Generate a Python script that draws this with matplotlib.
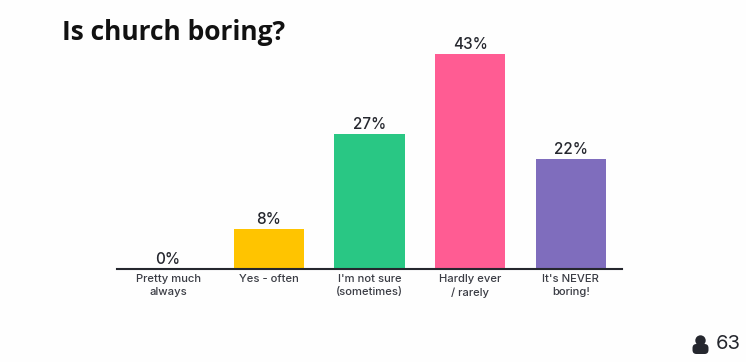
import matplotlib
matplotlib.use("Agg")
import matplotlib.pyplot as plt
from matplotlib.patches import Circle, FancyBboxPatch

categories = ["Pretty much\nalways", "Yes - often", "I'm not sure\n(sometimes)",
              "Hardly ever\n/ rarely", "It's NEVER\nboring!"]
values = [0, 8, 27, 43, 22]
colours = ["#C9C9C9", "#FFC400", "#29C784", "#FF5C93", "#7F6DBD"]
title = "Is church boring?"
respondents = "63"

W, H = 746, 362
ink = "#25272E"

fig = plt.figure(figsize=(W / 100, H / 100), dpi=100, facecolor="#FEFEFE")

# axes box in pixels: baseline at y=269, 5 px per percent
left, right, base = 117, 622, 269
ax = fig.add_axes([left / W, 1 - base / H, (right - left) / W, 215 / H])
ax.set_facecolor("none")
x = list(range(len(values)))
ax.bar(x, values, width=0.7, color=colours, zorder=2)
ax.set_xlim(-0.507, 4.507)
ax.set_ylim(0, 43)
ax.set_yticks([])
ax.set_xticks(x)
ax.set_xticklabels(categories, fontsize=8.1, family="Inter", fontweight="medium",
                   color="#3A3C44", linespacing=1.4)
ax.tick_params(axis="x", length=0, pad=3.4)
for side in ["top", "left", "right"]:
    ax.spines[side].set_visible(False)
ax.spines["bottom"].set_color(ink)
ax.spines["bottom"].set_linewidth(1.5)

for xi, v in zip(x, values):
    ax.annotate(f"{v}%", (xi, v), xytext=(0, 1.3), textcoords="offset points",
                ha="center", va="bottom", fontsize=11, family="Inter",
                fontweight="medium", color=ink, annotation_clip=False)

fig.text(62 / W, 1 - 33 / H, title, fontsize=19, fontweight="bold",
         family="Open Sans", color="#111111", va="center", ha="left")

# respondent count, bottom right
over = fig.add_axes([0, 0, 1, 1])
over.set_xlim(0, W)
over.set_ylim(H, 0)
over.axis("off")
over.add_patch(Circle((700.5, 340.5), 5.2, color=ink, lw=0))
over.add_patch(FancyBboxPatch((692.5, 344), 16, 10, boxstyle="round,pad=0,rounding_size=4",
                              color=ink, lw=0))
over.text(716, 344, respondents, fontsize=14.5, family="Inter", color=ink,
          va="center", ha="left")

fig.savefig("out.png", dpi=100, facecolor=fig.get_facecolor())
